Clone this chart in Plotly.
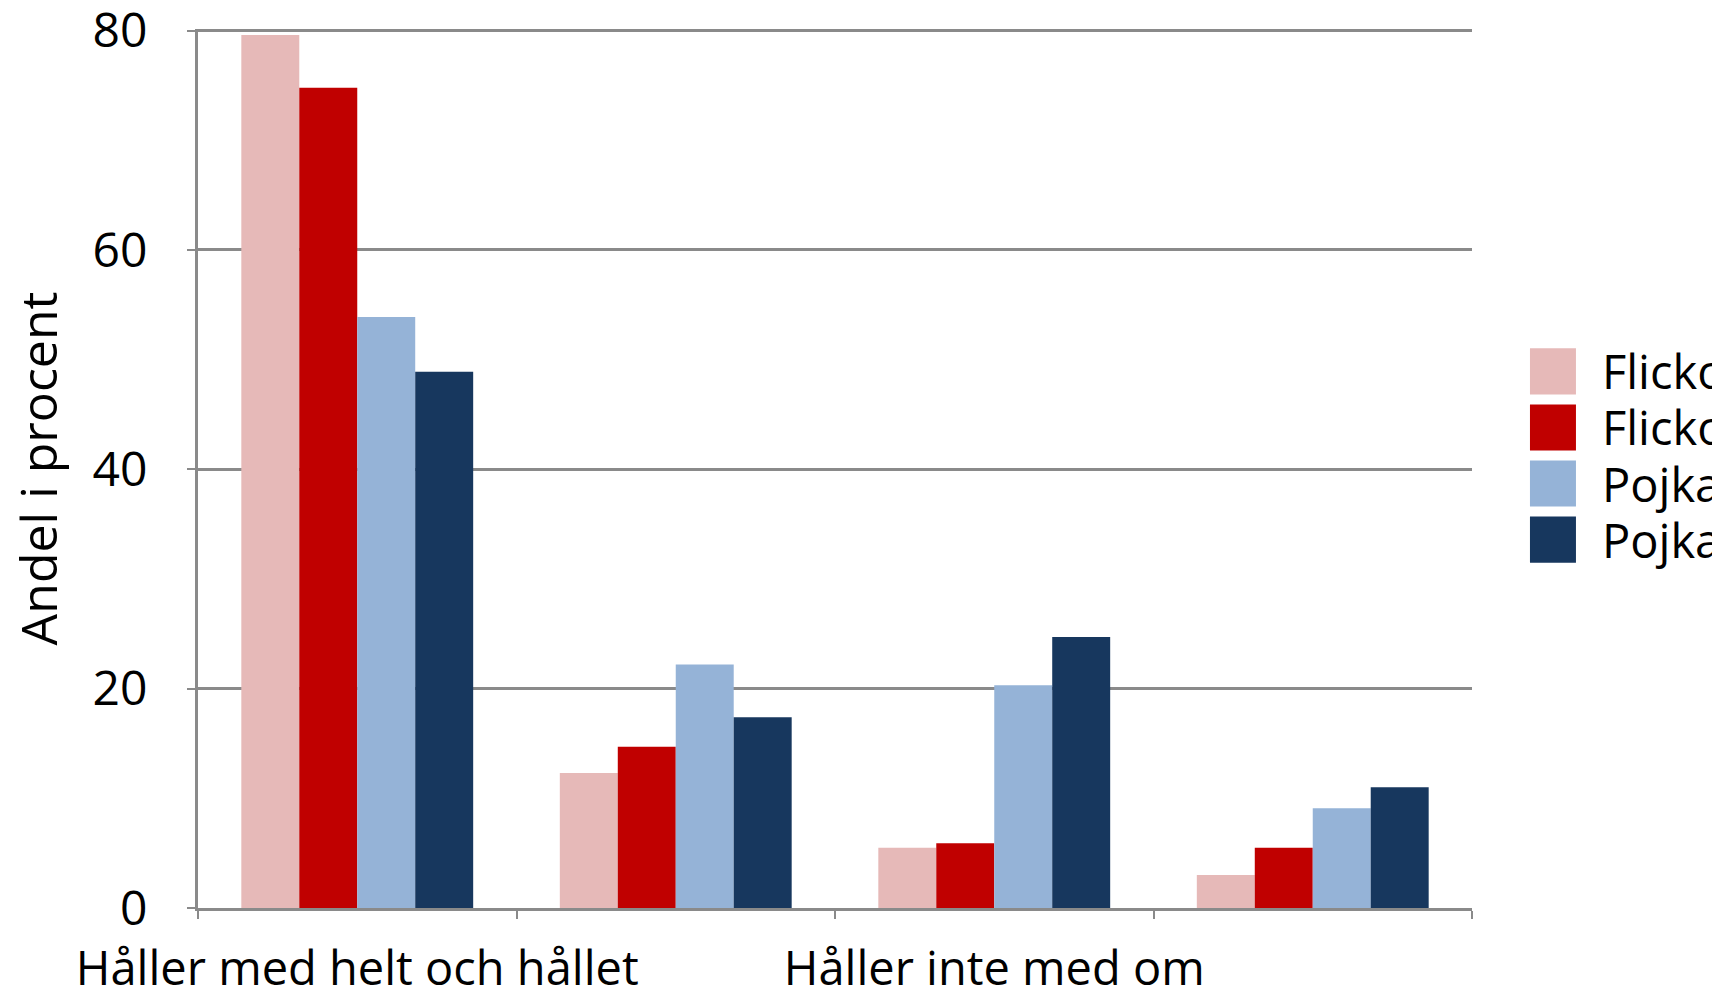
import plotly.graph_objects as go

# Answer categories (only every other one is labelled on the axis)
categories = [
    "Håller med helt och hållet",
    "Håller delvis med",
    "Håller inte med om",
    "Håller inte alls med",
]
tick_labels = ["Håller med helt och hållet", "", "Håller inte med om", ""]

# Series
series_names = ["Flickor 13 år", "Flickor 15 år", "Pojkar 13 år", "Pojkar 15 år"]
flickor_13 = [79.6, 12.3, 5.5, 3.0]
flickor_15 = [74.8, 14.7, 5.9, 5.5]
pojkar_13 = [53.9, 22.2, 20.3, 9.1]
pojkar_15 = [48.9, 17.4, 24.7, 11.0]
series_values = [flickor_13, flickor_15, pojkar_13, pojkar_15]
series_colors = ["#E6B9B8", "#C00000", "#95B3D7", "#17375E"]

y_ticks = [0, 20, 40, 60, 80]
y_max = 80.15  # a hair above the last tick so its grid line is kept

FONT = "Open Sans"
GRID = "#8a8a8a"

fig = go.Figure()
for name, vals, col in zip(series_names, series_values, series_colors):
    fig.add_trace(go.Bar(
        x=categories, y=vals, name=name,
        marker=dict(color=col, line=dict(width=0)),
        showlegend=False,
    ))

# Legend drawn as large colour swatches with labels to the right of the plot
sw_x0, sw_x1 = 1.0455, 1.0816
top_center, step, half = 0.6105, 0.0638, 0.0262
shapes, annotations = [], []
for i, (name, col) in enumerate(zip(series_names, series_colors)):
    yc = top_center - i * step
    shapes.append(dict(type="rect", xref="paper", yref="paper",
                       x0=sw_x0, x1=sw_x1, y0=yc - half, y1=yc + half,
                       fillcolor=col, line=dict(width=0)))
    annotations.append(dict(xref="paper", yref="paper", x=1.1005, y=yc,
                            xanchor="left", yanchor="middle", showarrow=False,
                            text=name, font=dict(family=FONT, size=47, color="black")))

fig.update_layout(
    width=1712, height=988,
    margin=dict(l=198, r=240, t=29, b=80, autoexpand=False),
    paper_bgcolor="white", plot_bgcolor="white",
    barmode="group", bargap=0.272, bargroupgap=0,
    font=dict(family=FONT, color="black"),
    shapes=shapes, annotations=annotations,
    showlegend=False,
)

fig.update_xaxes(
    type="category", categoryorder="array", categoryarray=categories,
    tickmode="array", tickvals=categories, ticktext=tick_labels,
    tickson="boundaries", ticks="outside", ticklen=8, tickwidth=2, tickcolor=GRID,
    showline=True, linecolor=GRID, linewidth=3,
    showgrid=False, tickangle=0,
    tickfont=dict(family=FONT, size=47, color="black"),
    ticklabelstandoff=18,
)

fig.update_yaxes(
    range=[0, y_max], tickmode="array", tickvals=y_ticks,
    ticks="outside", ticklen=8, tickwidth=2, tickcolor=GRID,
    showline=True, linecolor=GRID, linewidth=3,
    showgrid=True, gridcolor=GRID, gridwidth=2.5, zeroline=False,
    tickfont=dict(family=FONT, size=48, color="black"),
    ticklabelstandoff=30, ticklabeloverflow="allow",
    title=dict(text="Andel i procent", font=dict(family=FONT, size=50, color="black"),
               standoff=20),
    automargin=False,
)

fig.write_html("out.html")
